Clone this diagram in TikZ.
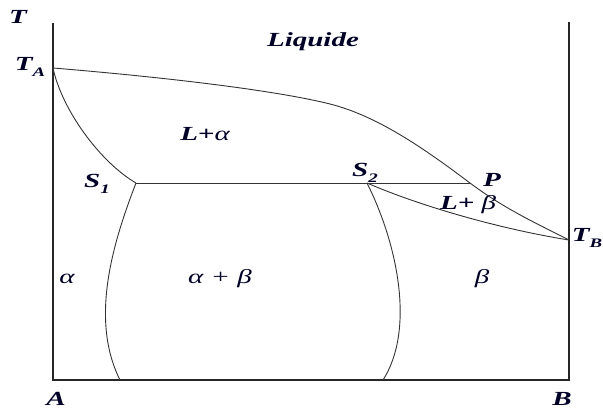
\documentclass[tikz,border=0pt]{standalone}
\usepackage{fontspec}
\setmainfont{Liberation Serif}
\newfontfamily\labfont{Liberation Serif Bold Italic}[FakeStretch=1.45]
\newfontfamily\grkfont{Liberation Serif Italic}[FakeStretch=1.45]
\newcommand\sbx[1]{\raisebox{-0.28em}{\fontsize{13}{13}\selectfont #1}}
\begin{document}
\begin{tikzpicture}[x=1pt,y=-1pt,
  lbl/.style={font=\fontsize{20}{22}\labfont, inner sep=0pt, text=black!85!blue},
  grk/.style={font=\fontsize{20}{22}\grkfont, inner sep=0pt, text=black!85!blue},
  axis/.style={line width=1.1pt, draw=black!85},
  curve/.style={line width=0.9pt, draw=black!80}]
\useasboundingbox (0,0) rectangle (603,410);
% key points
\coordinate (O) at (53,380);
\coordinate (Atop) at (53,23);
\coordinate (Bbot) at (569,380);
\coordinate (Btop) at (569,22);
\coordinate (TA) at (53,68);
\coordinate (TB) at (569,240);
\coordinate (S1) at (136,183);
\coordinate (S2) at (367,183);
\coordinate (P) at (470,183);
\coordinate (M) at (330,104);
\coordinate (a1) at (120,380);
\coordinate (b1) at (383,380);
% axes
\draw[axis] (Atop) -- (O) -- (Bbot) -- (Btop);
% liquidus
\draw[curve] (TA) .. controls (150,76) and (270,89) .. (M)
  .. controls (380,116.5) and (430,153) .. (P)
  .. controls (506,210) and (540,225) .. (TB);
% solidus alpha
\draw[curve] (TA) .. controls (62,110) and (100,162) .. (S1);
% eutectic / peritectic line
\draw[curve] (S1) -- (P);
% solidus beta
\draw[curve] (S2) .. controls (420,206) and (500,229) .. (TB);
% solvus lines
\draw[curve] (S1) .. controls (112,245) and (90,320) .. (a1);
\draw[curve] (S2) .. controls (398,245) and (415,330) .. (b1);
% labels
\node[lbl] (lT) at (18,17) {T};
\node[lbl] (lTA) at (30,67) {T\sbx{A}};
\node[lbl] (lLiq) at (313,42) {Liquide};
\node[lbl] (lLa) at (205,134) {L+{\grkfont α}};
\node[lbl] (lS1) at (97,184) {S\sbx{1}};
\node[lbl] (lS2) at (365,173) {S\sbx{2}};
\node[lbl] (lP) at (492,180) {P};
\node[lbl] (lLb) at (468,205) {L+ {\grkfont β}};
\node[lbl] (lTB) at (587,238) {T\sbx{B}};
\node[grk] (la) at (67,279) {α};
\node[grk] (lab) at (220,279) {α + β};
\node[grk] (lb) at (482,279) {β};
\node[lbl] (lA) at (56,399) {A};
\node[lbl] (lB) at (562,399) {B};
\end{tikzpicture}
\end{document}
